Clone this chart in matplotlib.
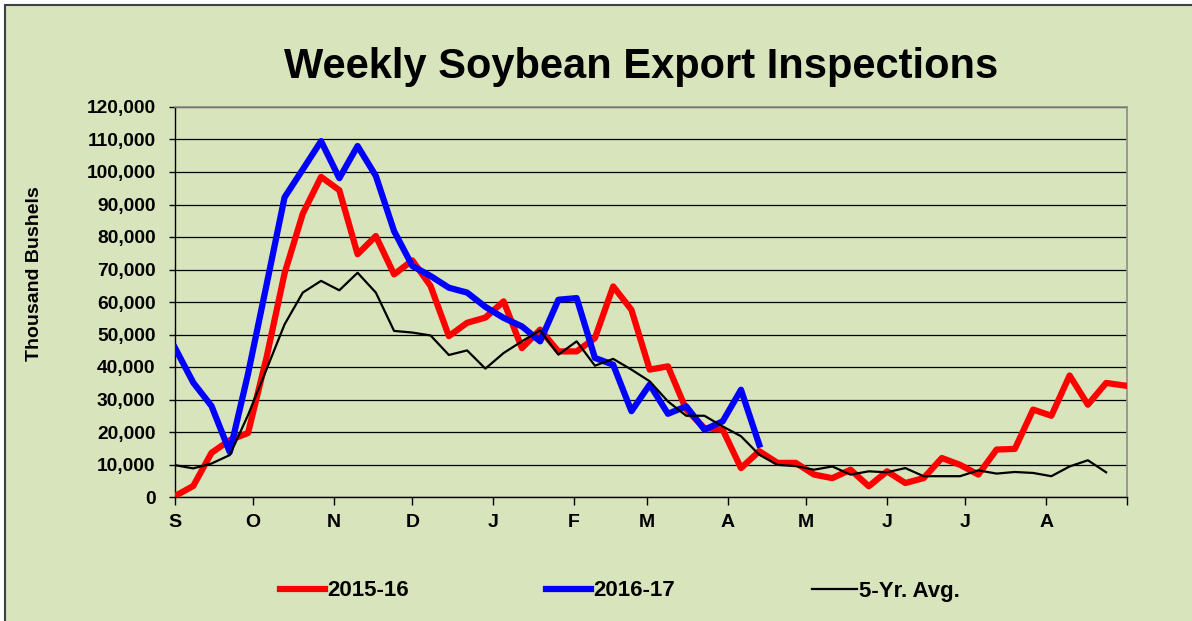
import matplotlib

matplotlib.use("Agg")
import matplotlib.pyplot as plt
from matplotlib import font_manager
from matplotlib.patches import Rectangle
from matplotlib.ticker import FuncFormatter

# weekly values, thousand bushels (x1000 below)
season_1516 = [0.3, 3.4, 13.6, 17.5, 19.7, 42.6, 68.8, 87.2, 98.5, 94.4,
               74.7, 80.3, 68.5, 72.8, 64.9, 49.5, 53.6, 55.2, 60.2, 45.8,
               51.5, 44.8, 44.8, 48.9, 64.8, 57.6, 39.2, 40.2, 26.9, 21.2,
               20.7, 8.9, 14.1, 10.5, 10.5, 6.9, 5.8, 8.4, 3.3, 7.9,
               4.3, 5.8, 12.0, 9.9, 6.9, 14.6, 14.8, 26.9, 25.0, 37.4,
               28.4, 35.1, 34.3]
season_1617 = [45.9, 35.2, 28.0, 13.8, 37.9, 64.9, 92.2, 100.8, 109.5, 98.1,
               108.0, 98.8, 81.8, 71.1, 68.0, 64.4, 62.9, 58.5, 55.1, 52.5,
               47.9, 60.7, 61.2, 42.8, 40.7, 26.4, 34.6, 25.6, 27.9, 20.7,
               23.3, 33.0, 16.1]
avg_5yr = [9.8, 8.8, 10.3, 12.9, 25.2, 39.1, 53.1, 62.9, 66.5, 63.6,
           69.0, 62.9, 51.1, 50.6, 49.7, 43.7, 45.1, 39.5, 44.3, 47.9,
           51.3, 43.8, 47.9, 40.4, 42.5, 39.2, 35.6, 29.4, 25.0, 25.0,
           21.7, 18.7, 13.0, 9.9, 9.5, 8.4, 9.4, 6.9, 7.9, 7.6,
           8.9, 6.4, 6.4, 6.4, 8.2, 7.2, 7.7, 7.4, 6.4, 9.4,
           11.3, 7.6]

month_labels = ["S", "O", "N", "D", "J", "F", "M", "A", "M", "J", "J", "A"]
month_start_day = [0, 30, 61, 91, 122, 153, 181, 212, 242, 273, 303, 334, 365]

BG = "#D8E4BC"
FONT = "Liberation Sans"


def weeks(vals):
    return [7 * i for i in range(len(vals))], [v * 1000 for v in vals]


def narrow_font():
    # legend in the original is a condensed bold face
    try:
        font_manager.findfont("Liberation Sans Narrow", fallback_to_default=False)
        return "Liberation Sans Narrow", 20, 1.6, 4.9
    except Exception:
        return FONT, 16, 2.0, 6.2


fig = plt.figure(figsize=(11.92, 6.21), dpi=100, facecolor="white")
fig.patches.append(Rectangle((5 / 1192, -0.1), 1.2, 1.1 - 5 / 621,
                             transform=fig.transFigure, facecolor=BG,
                             edgecolor="#404040", linewidth=1.5, zorder=-10))

ax = fig.add_axes([175 / 1192, 1 - 497 / 621, 952 / 1192, 390 / 621])
ax.set_facecolor(BG)

x, y = weeks(season_1516)
ax.plot(x, y, color="#FF0000", linewidth=4.5, label="2015-16", zorder=3)
x, y = weeks(season_1617)
ax.plot(x, y, color="#0000FF", linewidth=4.5, label="2016-17", zorder=4)
x, y = weeks(avg_5yr)
ax.plot(x, y, color="black", linewidth=1.6, label="5-Yr. Avg.", zorder=5)

ax.set_xlim(0, 365)
ax.set_ylim(0, 120000)
ax.set_yticks(range(0, 120001, 10000))
ax.yaxis.set_major_formatter(FuncFormatter(lambda v, p: f"{int(v):,}"))
ax.set_xticks(month_start_day)
ax.set_xticklabels(month_labels + [""])

ax.grid(axis="y", color="black", linewidth=0.9, zorder=1)
ax.set_axisbelow(True)
for side in ("top", "right"):
    ax.spines[side].set_color("#8C8C8C")
    ax.spines[side].set_linewidth(1.2)
for side in ("left", "bottom"):
    ax.spines[side].set_color("black")
    ax.spines[side].set_linewidth(1.0)

ax.tick_params(axis="y", length=4.5, width=1, pad=9.5)
ax.tick_params(axis="x", length=6, width=1, pad=6)
for lab in ax.get_yticklabels():
    lab.set_fontfamily(FONT)
    lab.set_fontweight("bold")
    lab.set_fontsize(13.8)
for lab in ax.get_xticklabels():
    lab.set_fontfamily(FONT)
    lab.set_fontweight("bold")
    lab.set_fontsize(14)

fig.text(641.5 / 1192, 1 - 78 / 621, "Weekly Soybean Export Inspections",
         ha="center", va="baseline", fontsize=30, fontweight="bold",
         family=FONT)
fig.text(35 / 1192, 1 - 274 / 621, "Thousand Bushels", rotation=90,
         ha="center", va="center", fontsize=14, fontweight="bold", family=FONT)

leg_family, leg_size, handle_len, col_space = narrow_font()
leg = fig.legend(loc="center", bbox_to_anchor=(620 / 1192, 1 - 591 / 621),
                 ncol=3, frameon=False, handlelength=handle_len,
                 handletextpad=0.1, columnspacing=col_space,
                 prop={"family": leg_family, "weight": "bold", "size": leg_size})

fig.savefig("out.png", dpi=100, facecolor="white")
